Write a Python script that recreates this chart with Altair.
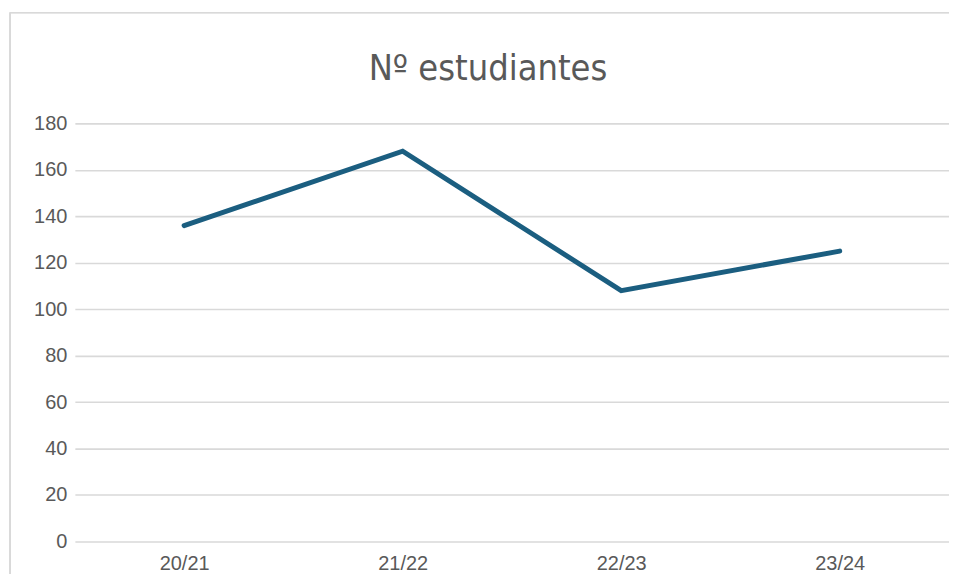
import altair as alt
import pandas as pd

years = ["20/21", "21/22", "22/23", "23/24"]
students = [136, 168, 108, 125]
title_text = ["Nº estudiantes"]

df = pd.DataFrame({"curso": years, "n": students})
df_title = pd.DataFrame({"t": title_text})

W, H = 876, 419

line = alt.Chart(df).mark_line(color="#1b5e80", strokeWidth=5, strokeCap="round", strokeJoin="miter").encode(
    x=alt.X("curso:N", sort=years, title=None,
            scale=alt.Scale(type="point", padding=0.5),
            axis=alt.Axis(labelAngle=0, labelFont="Liberation Sans", labelFontSize=20,
                          labelColor="#595959", labelPadding=12, domain=False, ticks=False, grid=False)),
    y=alt.Y("n:Q", title=None,
            scale=alt.Scale(domain=[0, 180], nice=False),
            axis=alt.Axis(values=list(range(0, 181, 20)), labelFont="Liberation Sans", labelFontSize=20,
                          labelColor="#595959", labelPadding=8, domain=False, ticks=False,
                          grid=True, gridColor="#d9d9d9", gridWidth=1.6)),
)

title = alt.Chart(df_title).mark_text(font="DejaVu Sans Condensed, Liberation Sans", fontSize=36,
                                      color="#595959", align="center", baseline="alphabetic").encode(
    text="t:N", x=alt.value(414), y=alt.value(-43))

border_left = alt.Chart(df).mark_rule(color="#d9d9d9", strokeWidth=1.2).encode(
    x=alt.value(-65), y=alt.value(-111), y2=alt.value(H + 60))
border_top = alt.Chart(df).mark_rule(color="#d9d9d9", strokeWidth=1.2).encode(
    y=alt.value(-111), x=alt.value(-65), x2=alt.value(W + 40))

chart = alt.layer(border_left, border_top, line, title).properties(
    width=W, height=H,
    padding={"left": 67, "top": 115, "right": 0, "bottom": 32},
    autosize=alt.AutoSizeParams(type="none"),
).configure_view(stroke=None)

chart.save("out.html", embed_options={"renderer": "svg", "actions": False})
